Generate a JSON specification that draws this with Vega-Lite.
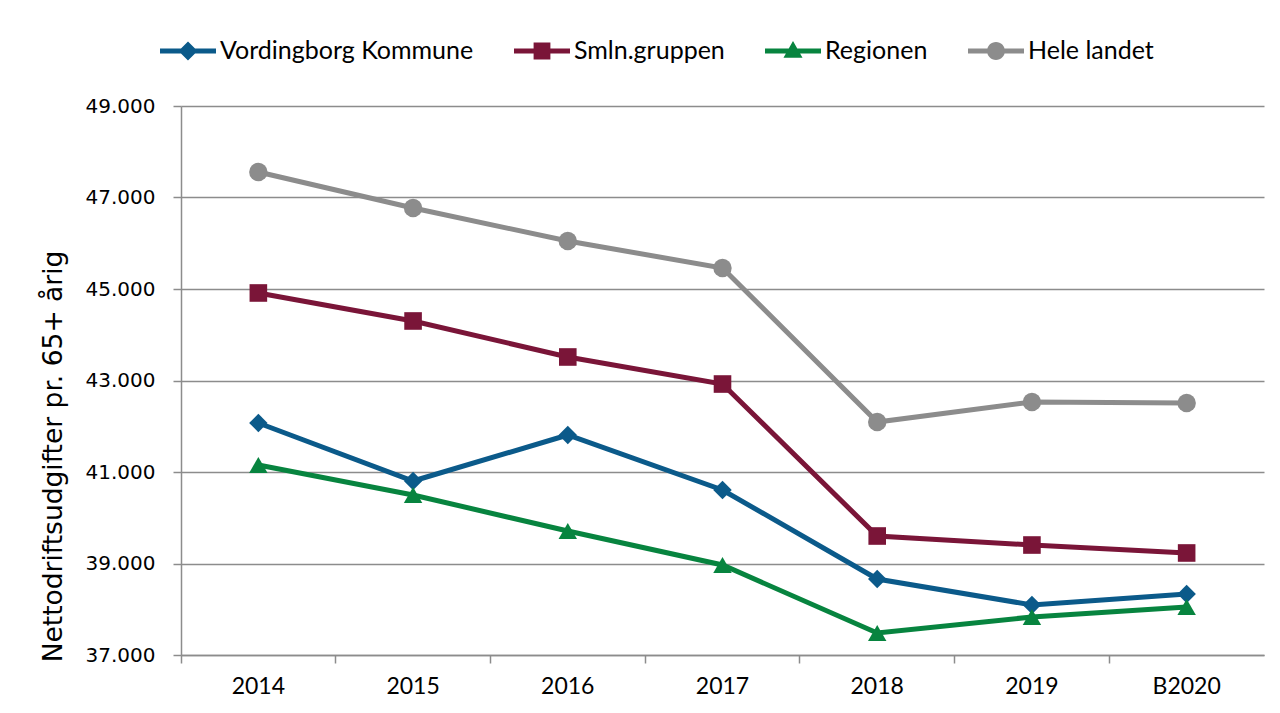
{
  "$schema": "https://vega.github.io/schema/vega-lite/v6.json",
  "width": 1083,
  "height": 549,
  "autosize": {"type": "none"},
  "padding": {"left": 181, "top": 106, "right": 16, "bottom": 58},
  "background": "white",
  "data": {
    "values": [
      {"year": "2014", "series": "Vordingborg Kommune", "value": 42071},
      {"year": "2015", "series": "Vordingborg Kommune", "value": 40803},
      {"year": "2016", "series": "Vordingborg Kommune", "value": 41809},
      {"year": "2017", "series": "Vordingborg Kommune", "value": 40607},
      {"year": "2018", "series": "Vordingborg Kommune", "value": 38661},
      {"year": "2019", "series": "Vordingborg Kommune", "value": 38093},
      {"year": "B2020", "series": "Vordingborg Kommune", "value": 38333},
      {"year": "2014", "series": "Smln.gruppen", "value": 44913},
      {"year": "2015", "series": "Smln.gruppen", "value": 44301},
      {"year": "2016", "series": "Smln.gruppen", "value": 43514},
      {"year": "2017", "series": "Smln.gruppen", "value": 42923},
      {"year": "2018", "series": "Smln.gruppen", "value": 39601},
      {"year": "2019", "series": "Smln.gruppen", "value": 39404},
      {"year": "B2020", "series": "Smln.gruppen", "value": 39230},
      {"year": "2014", "series": "Regionen", "value": 41153},
      {"year": "2015", "series": "Regionen", "value": 40497},
      {"year": "2016", "series": "Regionen", "value": 39710},
      {"year": "2017", "series": "Regionen", "value": 38967},
      {"year": "2018", "series": "Regionen", "value": 37481},
      {"year": "2019", "series": "Regionen", "value": 37831},
      {"year": "B2020", "series": "Regionen", "value": 38049},
      {"year": "2014", "series": "Hele landet", "value": 47557},
      {"year": "2015", "series": "Hele landet", "value": 46770},
      {"year": "2016", "series": "Hele landet", "value": 46049},
      {"year": "2017", "series": "Hele landet", "value": 45459},
      {"year": "2018", "series": "Hele landet", "value": 42093},
      {"year": "2019", "series": "Hele landet", "value": 42530},
      {"year": "B2020", "series": "Hele landet", "value": 42508}
    ]
  },
  "encoding": {
    "x": {
      "field": "year",
      "type": "ordinal",
      "sort": ["2014", "2015", "2016", "2017", "2018", "2019", "B2020"],
      "scale": {"type": "band", "paddingInner": 0, "paddingOuter": 0},
      "axis": {
        "title": null,
        "labelAngle": 0,
        "bandPosition": 0,
        "labelFont": "Lato",
        "labelFontSize": 23,
        "labelColor": "#000000",
        "labelPadding": 12,
        "tickSize": 8,
        "tickColor": "#8c8c8c",
        "tickWidth": 1.5,
        "domainColor": "#8c8c8c",
        "domainWidth": 1.5,
        "grid": false
      }
    },
    "y": {
      "field": "value",
      "type": "quantitative",
      "scale": {"domain": [37000, 49000], "nice": false, "zero": false},
      "axis": {
        "values": [37000, 39000, 41000, 43000, 45000, 47000, 49000],
        "labelExpr": "replace(format(datum.value, ',.0f'), ',', '.')",
        "labelFont": "DejaVu Sans",
        "labelFontSize": 20,
        "labelColor": "#000000",
        "labelPadding": 18,
        "tickSize": 8,
        "tickColor": "#8c8c8c",
        "tickWidth": 1.5,
        "domainColor": "#8c8c8c",
        "domainWidth": 1.5,
        "grid": true,
        "gridColor": "#8c8c8c",
        "gridWidth": 1.5,
        "title": "Nettodriftsudgifter pr. 65+ årig",
        "titleFont": "DejaVu Sans",
        "titleFontSize": 26.5,
        "titleFontWeight": "normal",
        "titleColor": "#000000",
        "titleAngle": -90,
        "titleX": -128,
        "titleY": 350,
        "titleAlign": "center",
        "titleBaseline": "middle"
      }
    },
    "color": {
      "field": "series",
      "type": "nominal",
      "scale": {
        "domain": ["Vordingborg Kommune", "Smln.gruppen", "Regionen", "Hele landet"],
        "range": ["#0b5a8a", "#7a1538", "#07843f", "#8c8c8c"]
      },
      "legend": {
        "title": null,
        "orient": "none",
        "direction": "horizontal",
        "legendX": -21,
        "legendY": -83,
        "columns": 4,
        "gridAlign": "none",
        "columnPadding": 40,
        "symbolSize": 3136,
        "symbolStrokeWidth": 0,
        "labelFont": "Lato",
        "labelFontSize": 25,
        "labelColor": "#000000",
        "labelOffset": 4,
        "labelLimit": 400,
        "encode": {
          "symbols": {
            "update": {
              "shape": {"signal": "datum.value === 'Vordingborg Kommune' ? 'M-1,-0.09L1,-0.09L1,0.09L-1,0.09ZM0,-0.34L0.34,0L0,0.34L-0.34,0Z' : datum.value === 'Smln.gruppen' ? 'M-1,-0.09L1,-0.09L1,0.09L-1,0.09ZM-0.3,-0.3L0.3,-0.3L0.3,0.3L-0.3,0.3Z' : datum.value === 'Regionen' ? 'M-1,-0.09L1,-0.09L1,0.09L-1,0.09ZM0,-0.36L0.34,0.24L-0.34,0.24Z' : 'M-1,-0.09L1,-0.09L1,0.09L-1,0.09ZM-0.32,0A0.32,0.32,0,1,1,0.32,0A0.32,0.32,0,1,1,-0.32,0Z'"},
              "fill": {"scale": "color", "field": "value"},
              "stroke": {"value": "transparent"},
              "strokeWidth": {"value": 0},
              "opacity": {"value": 1}
            }
          }
        }
      }
    }
  },
  "layer": [
    {
      "mark": {"type": "line", "strokeWidth": 5}
    },
    {
      "transform": [{"filter": "datum.series === 'Vordingborg Kommune'"}],
      "mark": {"type": "point", "filled": true, "opacity": 1, "size": 340, "shape": "diamond"}
    },
    {
      "transform": [{"filter": "datum.series === 'Smln.gruppen'"}],
      "mark": {"type": "point", "filled": true, "opacity": 1, "size": 310, "shape": "square"}
    },
    {
      "transform": [{"filter": "datum.series === 'Regionen'"}],
      "mark": {"type": "point", "filled": true, "opacity": 1, "size": 340, "shape": "triangle-up"}
    },
    {
      "transform": [{"filter": "datum.series === 'Hele landet'"}],
      "mark": {"type": "point", "filled": true, "opacity": 1, "size": 340, "shape": "circle"}
    }
  ],
  "config": {
    "view": {"stroke": null}
  }
}
